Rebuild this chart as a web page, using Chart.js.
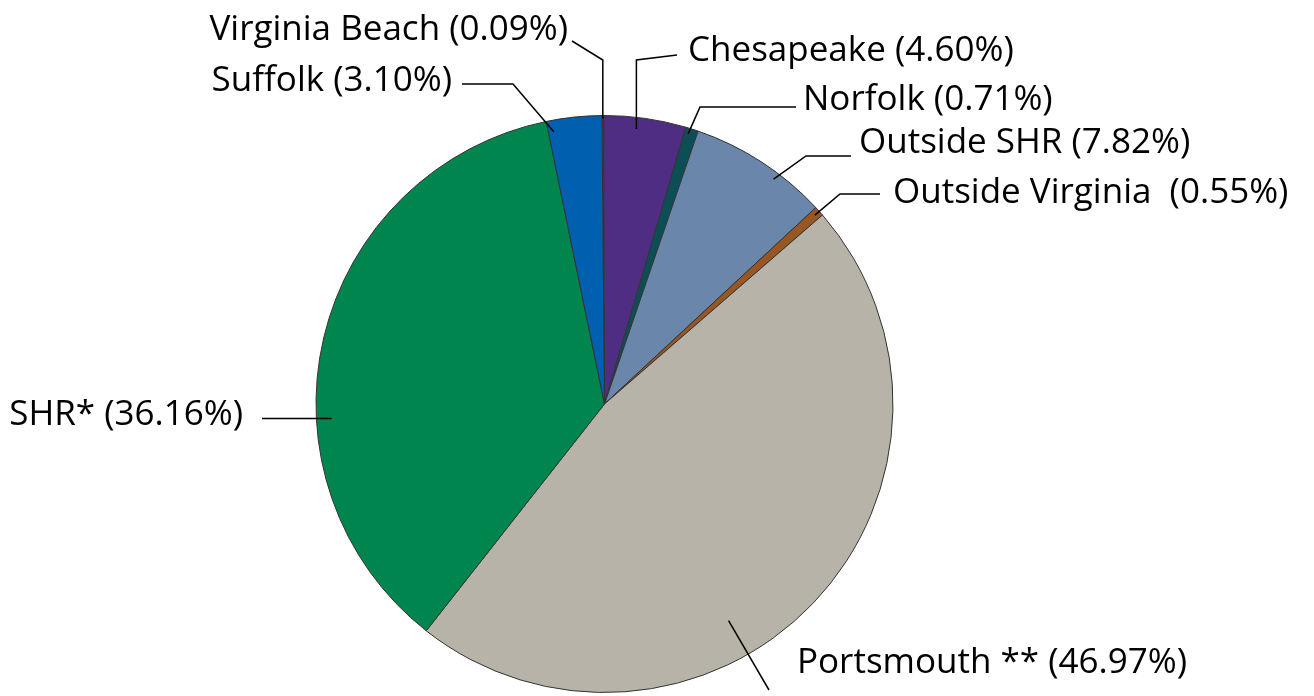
<!DOCTYPE html>
<html>
<head>
<meta charset="utf-8">
<title>Residence of patients</title>
<script src="https://cdn.jsdelivr.net/npm/chart.js@4.4.1/dist/chart.umd.min.js"></script>
<style>
  html, body { margin: 0; padding: 0; background: #fff; }
  #wrap { width: 1314px; height: 696px; }
</style>
</head>
<body>
<div id="wrap"><canvas id="chart" width="1314" height="696"></canvas></div>
<script>
// Share of patients by place of residence, clockwise from 12 o'clock

var categories = ['Virginia Beach', 'Chesapeake', 'Norfolk', 'Outside SHR', 'Outside Virginia ', 'Portsmouth **', 'SHR*', 'Suffolk'];
var shares = [0.09, 4.60, 0.71, 7.82, 0.55, 46.97, 36.16, 3.10];
var colors = ['#9c1f45', '#4e2d83', '#0c4e56', '#6a87ab', '#985622', '#b8b3a8', '#00854f', '#005fae'];

// leader line layout: t = position inside the slice, rf = fraction of radius,
// pts = bends after the anchor (null x = same x as anchor), label text position
var leaders = [
  { t: 0.5,  rf: 0.99,  pts: [[null, 60], [572, 41]],   x: 568, y: 40,  align: 'right' },
  { t: 0.41, rf: 0.96,  pts: [[null, 60], [677, 55]],   x: 688, y: 61,  align: 'left' },
  { t: 0.32, rf: 0.98,  pts: [[700, 107], [796, 107]],  x: 803, y: 110, align: 'left' },
  { t: 0.64, rf: 0.975, pts: [[806, 156], [851, 156]],  x: 859, y: 153, align: 'left' },
  { t: 0.5,  rf: 0.98,  pts: [[840, 194], [880, 194]],  x: 893, y: 203, align: 'left' },
  { t: 0.598, rf: 0.865, pts: [[769, 690]],             x: 797, y: 673, align: 'left' },
  { t: 0.375, rf: 0.947, pts: [[262, null]],            x: 243, y: 425, align: 'right' },
  { t: 0.1,  rf: 0.96,  pts: [[513, 84], [462, 84]],    x: 452, y: 91,  align: 'right' }
];

function fmtPct(v) { return v.toFixed(2) + '%'; }

var leaderPlugin = {
  id: 'leaders',
  afterDraw: function (chart) {
    var ctx = chart.ctx;
    var arcs = chart.getDatasetMeta(0).data;
    ctx.save();
    ctx.strokeStyle = '#000';
    ctx.lineWidth = 1.5;
    ctx.fillStyle = '#000';
    ctx.font = '35px "Open Sans", sans-serif';
    ctx.textBaseline = 'alphabetic';
    for (var i = 0; i < arcs.length; i++) {
      var a = arcs[i].getProps(['x', 'y', 'startAngle', 'endAngle', 'outerRadius'], true);
      var L = leaders[i];
      var ang = a.startAngle + (a.endAngle - a.startAngle) * L.t;
      var ax = a.x + Math.cos(ang) * a.outerRadius * L.rf;
      var ay = a.y + Math.sin(ang) * a.outerRadius * L.rf;
      ctx.beginPath();
      ctx.moveTo(ax, ay);
      L.pts.forEach(function (p) {
        ctx.lineTo(p[0] === null ? ax : p[0], p[1] === null ? ay : p[1]);
      });
      ctx.stroke();
      ctx.textAlign = L.align;
      ctx.fillText(categories[i] + ' (' + fmtPct(shares[i]) + ')', L.x, L.y);
    }
    ctx.restore();
  }
};

new Chart(document.getElementById('chart').getContext('2d'), {
  type: 'pie',
  data: {
    labels: categories,
    datasets: [{
      data: shares,
      backgroundColor: colors,
      borderColor: '#333',
      borderWidth: 1,
      hoverOffset: 0
    }]
  },
  options: {
    responsive: false,
    animation: false,
    rotation: -0.5,
    layout: { padding: { top: 115, bottom: 3, left: 0, right: 105 } },
    plugins: { legend: { display: false }, tooltip: { enabled: false } }
  },
  plugins: [leaderPlugin]
});
</script>
</body>
</html>
